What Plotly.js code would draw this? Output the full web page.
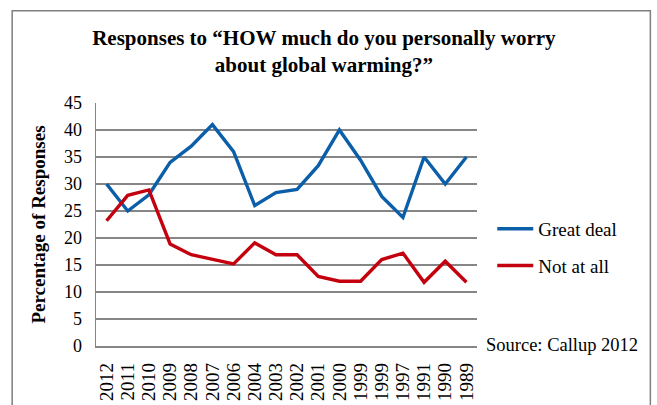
<!DOCTYPE html>
<html>
<head>
<meta charset="utf-8">
<script src="https://cdn.plot.ly/plotly-3.0.1.min.js"></script>
<style>
html,body{margin:0;padding:0;background:#fff;}
#chart{width:657px;height:405px;}
</style>
</head>
<body>
<div id="chart"></div>
<script>
var years = ["2012","2011","2010","2009","2008","2007","2006","2004","2003","2002","2001","2000","1999","1999","1997","1991","1990","1989"];
var greatDeal = [30, 25, 28, 34, 37, 41, 36, 26, 28.4, 29, 33.4, 40, 34.4, 27.7, 23.8, 35, 30, 35];
var notAtAll = [23.2, 27.9, 28.9, 18.9, 16.9, 16.1, 15.2, 19.1, 16.9, 16.9, 12.9, 12, 12, 16, 17.2, 11.8, 15.7, 11.8];
var yTicks = [0,5,10,15,20,25,30,35,40,45];

var idx = years.map(function(_, i){ return i; });
var serif = "'Liberation Serif', 'Times New Roman', Times, serif";

var traces = [
  {x: idx, y: greatDeal, name: "Great deal", type: "scatter", mode: "lines", legendgroup: "a",
   line: {color: "#0B5EA8", width: 3.4}},
  {x: idx, y: notAtAll, name: "Not at all", type: "scatter", mode: "lines", legendgroup: "b",
   line: {color: "#C4000F", width: 3.4}}
];

var layout = {
  width: 657, height: 405,
  margin: {l: 96, r: 180, t: 103, b: 59},
  paper_bgcolor: "#fff", plot_bgcolor: "#fff",
  font: {family: serif, color: "#000", size: 17},
  showlegend: true,
  legend: {x: 1.04, xanchor: "left", y: 0.56, yanchor: "top",
           font: {family: serif, size: 19, color: "#000"}, traceorder: "grouped",
           bgcolor: "rgba(0,0,0,0)", tracegroupgap: 9, itemwidth: 36},
  xaxis: {
    range: [-0.5, years.length - 0.5],
    tickvals: idx, ticktext: years, tickangle: -90,
    tickfont: {family: serif, size: 19, color: "#000"},
    ticklabelstandoff: 8,
    showgrid: false, zeroline: false,
    showline: true, linecolor: "#868686", linewidth: 1.5,
    ticks: "", fixedrange: true
  },
  yaxis: {
    range: [0, 45], tickvals: yTicks,
    tickfont: {family: serif, size: 18, color: "#000"},
    ticklabelstandoff: 9,
    showgrid: true, gridcolor: "#868686", gridwidth: 1.5,
    zeroline: false, showline: true, linecolor: "#868686", linewidth: 1.5,
    ticks: "", ticklen: 0,
    title: {text: "<b>Percentage of Responses</b>", font: {family: serif, size: 19, color: "#000"}, standoff: 13}
  },
  title: {
    text: "<b>Responses to “HOW much do you personally worry<br>about global warming?”</b>",
    font: {family: serif, size: 21, color: "#000"},
    x: 0.493, xanchor: "center", xref: "container",
    y: 0.89, yanchor: "top", yref: "container"
  },
  annotations: [
    {text: "Source: Callup 2012", xref: "paper", yref: "paper", x: 1.019, y: 0.005,
     xanchor: "left", yanchor: "middle", showarrow: false,
     font: {family: serif, size: 18.5, color: "#000"}}
  ],
  shapes: [
    {type: "rect", xref: "paper", yref: "paper", x0: -0.220, x1: 1.455, y0: -0.4, y1: 1.38,
     line: {color: "#7f7f7f", width: 1.5}, fillcolor: "rgba(0,0,0,0)", layer: "above"}
  ]
};

Plotly.newPlot("chart", traces, layout, {displayModeBar: false, staticPlot: true});
</script>
</body>
</html>
